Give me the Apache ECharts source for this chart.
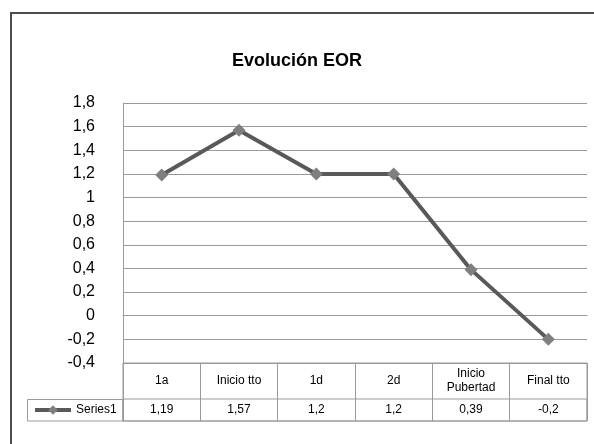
<!DOCTYPE html>
<html>
<head>
<meta charset="utf-8">
<script src="https://cdn.jsdelivr.net/npm/echarts@6/dist/echarts.min.js"></script>
<style>
  html, body { margin: 0; padding: 0; background: #fff; }
  #chart { width: 594px; height: 444px; }
</style>
</head>
<body>
<div id="chart"></div>
<script>
const categories = ['1a', 'Inicio tto', '1d', '2d', 'Inicio\nPubertad', 'Final tto']
const seriesName = 'Series1'
const values = [1.19, 1.57, 1.2, 1.2, 0.39, -0.2]
const yMin = -0.4
const yMax = 1.8
const yStep = 0.2

const comma = (v) => String(+(+v).toFixed(2)).replace('.', ',')
const gridColor = '#9a9a9a'
const font = 'Liberation Sans, Arial, sans-serif'

const myChart = echarts.init(document.getElementById('chart'))

const option = {
  animation: false,
  textStyle: { fontFamily: font },
  title: {
    text: 'Evolución EOR',
    left: 'center',
    top: 47,
    textStyle: { fontSize: 18, fontWeight: 'bold', color: '#000', fontFamily: font },
  },
  legend: {
    data: [seriesName],
    left: 33,
    top: 404,
    padding: 0,
    itemWidth: 36,
    itemHeight: 12,
    itemGap: 4,
    lineStyle: { width: 4, color: '#595959' },
    textStyle: { fontSize: 12, color: '#000', fontFamily: font },
  },
  grid: [
    // plot area
    { left: 123, right: 7, top: 103, height: 260 },
    // header row + table frame
    { left: 123, right: 7, top: 363, height: 58, show: true, borderColor: gridColor, borderWidth: 1 },
    // values row
    { left: 123, right: 7, top: 399, height: 22, show: true, borderColor: gridColor, borderWidth: 1 },
  ],
  xAxis: [
    {
      gridIndex: 0,
      type: 'category',
      data: categories,
      boundaryGap: true,
      axisLine: { show: true, lineStyle: { color: gridColor } },
      axisTick: { show: false },
      axisLabel: {
        interval: 0,
        margin: 18,
        verticalAlign: 'middle',
        fontSize: 12,
        lineHeight: 14,
        color: '#000',
        fontFamily: font,
      },
    },
    {
      gridIndex: 1,
      type: 'category',
      data: categories,
      boundaryGap: true,
      axisLine: { show: false },
      axisTick: { show: false },
      axisLabel: { show: false },
      splitLine: { show: true, interval: 0, lineStyle: { color: gridColor, width: 1 } },
    },
    {
      gridIndex: 2,
      type: 'category',
      data: values.map(comma),
      boundaryGap: true,
      axisLine: { show: false },
      axisTick: { show: false },
      axisLabel: {
        interval: 0,
        margin: -11,
        verticalAlign: 'middle',
        fontSize: 12,
        color: '#000',
        fontFamily: font,
      },
    },
  ],
  yAxis: [
    {
      gridIndex: 0,
      type: 'value',
      min: yMin,
      max: yMax,
      interval: yStep,
      axisLine: { show: true, lineStyle: { color: gridColor } },
      axisTick: { show: false },
      splitLine: { show: true, lineStyle: { color: gridColor, width: 1 } },
      axisLabel: {
        margin: 28,
        fontSize: 16,
        color: '#000',
        fontFamily: font,
        formatter: (v) => comma(v),
      },
    },
    { gridIndex: 1, type: 'value', show: false },
    { gridIndex: 2, type: 'value', show: false },
  ],
  graphic: [
    {
      type: 'rect',
      shape: { x: 11, y: 13, width: 600, height: 450 },
      style: { fill: 'none', stroke: '#4d4d4d', lineWidth: 2 },
      silent: true,
    },
    {
      type: 'rect',
      shape: { x: 27.5, y: 399.5, width: 95.5, height: 21.5 },
      style: { fill: 'none', stroke: gridColor, lineWidth: 1 },
      silent: true,
    },
    {
      type: 'line',
      shape: { x1: 123.5, y1: 363, x2: 123.5, y2: 421 },
      style: { stroke: gridColor, lineWidth: 1 },
      silent: true,
    },
  ],
  series: [
    {
      name: seriesName,
      type: 'line',
      xAxisIndex: 0,
      yAxisIndex: 0,
      data: values,
      symbol: 'diamond',
      symbolSize: 13,
      lineStyle: { color: '#595959', width: 4 },
      itemStyle: { color: '#7f7f7f' },
    },
  ],
}

myChart.setOption(option)
</script>
</body>
</html>
